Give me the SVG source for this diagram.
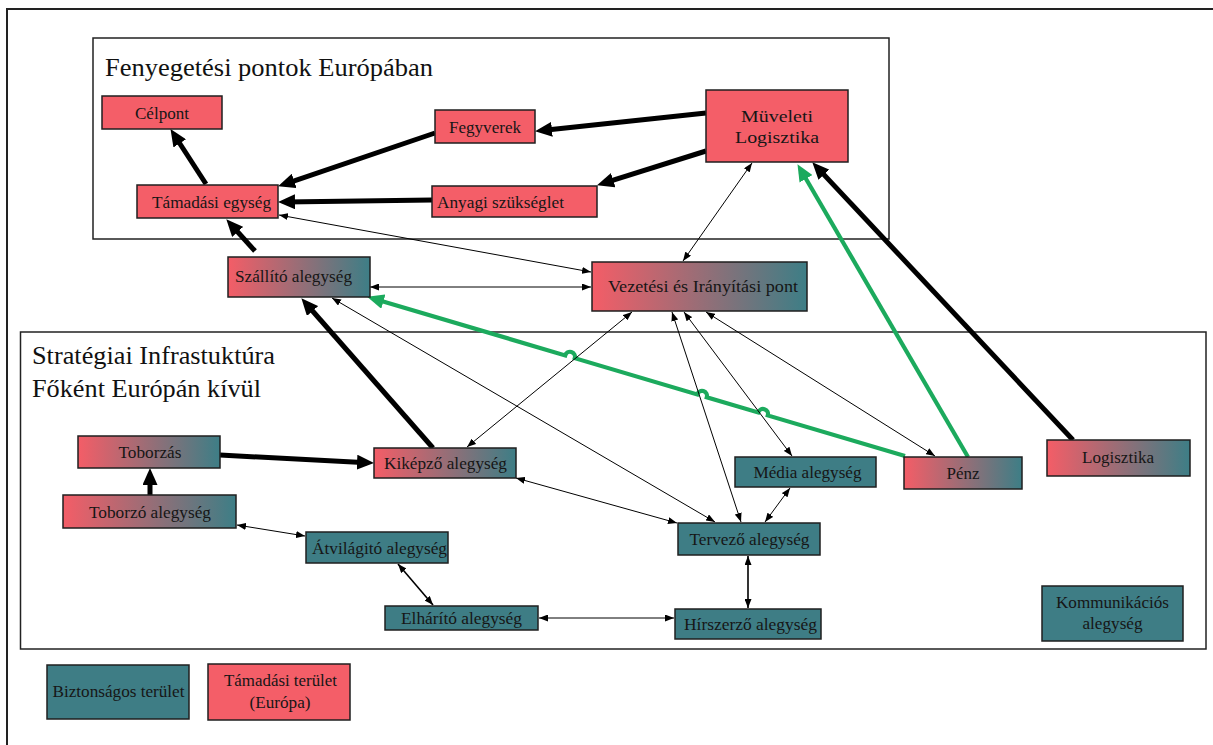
<svg xmlns="http://www.w3.org/2000/svg" width="1213" height="745" viewBox="0 0 1213 745">
<defs>
<linearGradient id="rg" x1="0" y1="0" x2="1" y2="0">
<stop offset="0" stop-color="#F45D67"/>
<stop offset="1" stop-color="#3D7E86"/>
</linearGradient>
<marker id="ah" markerUnits="userSpaceOnUse" markerWidth="17" markerHeight="15" refX="10" refY="7.5" orient="auto">
<path d="M0,0 L17,7.5 L0,15 z" fill="#000"/>
</marker>
<marker id="ag" markerUnits="userSpaceOnUse" markerWidth="17" markerHeight="15" refX="10" refY="7.5" orient="auto">
<path d="M0,0 L17,7.5 L0,15 z" fill="#1CAA5D"/>
</marker>
<marker id="at" markerUnits="userSpaceOnUse" markerWidth="9" markerHeight="7" refX="9" refY="3.5" orient="auto-start-reverse">
<path d="M0,0 L9,3.5 L0,7 z" fill="#000"/>
</marker>
<style>
.frame{fill:none;stroke:#222;stroke-width:1.5}
.box{stroke:#1f1f1f;stroke-width:1.5}
.red{fill:#F45E68}
.teal{fill:#3E7D85}
.grad{fill:url(#rg)}
.t{font-family:"Liberation Serif",Tinos,"Times New Roman",Times,serif;font-size:17px;fill:#161616;text-anchor:middle}
.title{font-family:"Liberation Serif",Tinos,"Times New Roman",Times,serif;font-size:26px;fill:#111}
.thick{fill:none;stroke:#000;stroke-width:5;marker-end:url(#ah)}
.green{fill:none;stroke:#1CAA5D;stroke-width:4.2;marker-end:url(#ag)}
.thin{fill:none;stroke:#000;stroke-width:1;marker-start:url(#at);marker-end:url(#at)}
.mid{fill:none;stroke:#000;stroke-width:1.6;marker-start:url(#at);marker-end:url(#at)}
</style>
</defs>
<rect width="1213" height="745" fill="#fff"/>
<g id="frames">
<rect x="7" y="9" width="1230" height="760" fill="none" stroke="#222" stroke-width="2"/>
<rect class="frame" x="93" y="38" width="796" height="201"/>
<text class="title" x="105" y="76" textLength="328" lengthAdjust="spacingAndGlyphs">Fenyegetési pontok Európában</text>
<rect class="frame" x="20.5" y="332" width="1185.5" height="317"/>
<text class="title" x="32" y="364" textLength="243" lengthAdjust="spacingAndGlyphs">Stratégiai Infrastuktúra</text>
<text class="title" x="32" y="397" textLength="229" lengthAdjust="spacingAndGlyphs">Főként Európán kívül</text>
</g>
<g id="connectors">
<path class="thick" d="M706,113 L542,130.4"/>
<path class="thick" d="M706,151 L603.7,183.2"/>
<path class="thick" d="M435,133 L284.7,184.1"/>
<path class="thick" d="M432,200 L285,201.9"/>
<path class="thick" d="M206,184 L174.3,135"/>
<path class="thick" d="M255,251 L231,224.5"/>
<path class="thick" d="M1073,440 L817.1,167.4"/>
<path class="thick" d="M433,448 L306,303.5"/>
<path class="thick" d="M150,495 L150,475"/>
<path class="thick" d="M220,455 L367,462.7"/>
<path class="green" d="M968,457 L801,170.2"/>
<path class="green" d="M905,456 L767.8,415.4 A5,5 0 0 0 758.2,412.5 L706.8,397.3 A5,5 0 0 0 697.2,394.5 L574.8,358.2 A5,5 0 0 0 565.2,355.4 L373.8,298.7"/>
<path class="thin" d="M279,215 L591,272"/>
<path class="thin" d="M370,287 L591,287"/>
<path class="thin" d="M752,163 L683,261"/>
<path class="thin" d="M467,447 L632,312"/>
<path class="thin" d="M332,298 L715,522"/>
<path class="thin" d="M516,478 L677,523"/>
<path class="thin" d="M672,312 L741,522"/>
<path class="thin" d="M684,312 L792,456"/>
<path class="thin" d="M706,312 L935,456"/>
<path class="thin" d="M790,488 L765,522"/>
<path class="mid" d="M748,556 L748,608"/>
<path class="thin" d="M539,618 L674,618"/>
<path class="mid" d="M398,564 L433,605"/>
<path class="thin" d="M237,525 L305,536"/>
</g>
<g id="n-celpont"><rect class="box red" x="102" y="96" width="120" height="33"/><text class="t" x="162" y="119" textLength="54" lengthAdjust="spacingAndGlyphs">Célpont</text></g>
<g id="n-fegyverek"><rect class="box red" x="435" y="110" width="100" height="33"/><text class="t" x="485" y="133" textLength="72" lengthAdjust="spacingAndGlyphs">Fegyverek</text></g>
<g id="n-tamadasi"><rect class="box red" x="137" y="185" width="141" height="33"/><text class="t" x="211.5" y="208" textLength="119" lengthAdjust="spacingAndGlyphs">Támadási egység</text></g>
<g id="n-anyagi"><rect class="box red" x="432" y="186" width="165" height="31"/><text class="t" x="500.5" y="208" textLength="127" lengthAdjust="spacingAndGlyphs">Anyagi szükséglet</text></g>
<g id="n-muveleti"><rect class="box red" x="706" y="90" width="142" height="72"/><text class="t" x="777" y="122" textLength="72" lengthAdjust="spacingAndGlyphs">Müveleti</text><text class="t" x="777" y="143" textLength="84" lengthAdjust="spacingAndGlyphs">Logisztika</text></g>
<g id="n-szallito"><rect class="box grad" x="228" y="257" width="142" height="40"/><text class="t" x="293.5" y="282" textLength="117" lengthAdjust="spacingAndGlyphs">Szállító alegység</text></g>
<g id="n-vezetesi"><rect class="box grad" x="592" y="262" width="215" height="49"/><text class="t" x="703" y="292" textLength="190" lengthAdjust="spacingAndGlyphs">Vezetési és Irányítási pont</text></g>
<g id="n-toborzas"><rect class="box grad" x="78" y="436" width="142" height="32"/><text class="t" x="150" y="458" textLength="63" lengthAdjust="spacingAndGlyphs">Toborzás</text></g>
<g id="n-kikepzo"><rect class="box grad" x="374" y="448" width="142" height="30"/><text class="t" x="445.5" y="469" textLength="123" lengthAdjust="spacingAndGlyphs">Kiképző alegység</text></g>
<g id="n-toborzo"><rect class="box grad" x="63" y="495" width="173" height="33"/><text class="t" x="150" y="518" textLength="122" lengthAdjust="spacingAndGlyphs">Toborzó alegység</text></g>
<g id="n-atvilagito"><rect class="box teal" x="306" y="532" width="142" height="31"/><text class="t" x="379.5" y="554" textLength="135" lengthAdjust="spacingAndGlyphs">Átvilágitó alegység</text></g>
<g id="n-elharito"><rect class="box teal" x="385" y="606" width="153" height="24"/><text class="t" x="461.5" y="624" textLength="121" lengthAdjust="spacingAndGlyphs">Elhárító alegység</text></g>
<g id="n-media"><rect class="box teal" x="735" y="457" width="141" height="30"/><text class="t" x="807.5" y="478" textLength="108" lengthAdjust="spacingAndGlyphs">Média alegység</text></g>
<g id="n-penz"><rect class="box grad" x="904" y="457" width="118" height="32"/><text class="t" x="963" y="479" textLength="33" lengthAdjust="spacingAndGlyphs">Pénz</text></g>
<g id="n-logisztika"><rect class="box grad" x="1047" y="440" width="143" height="36"/><text class="t" x="1118" y="463" textLength="72" lengthAdjust="spacingAndGlyphs">Logisztika</text></g>
<g id="n-tervezo"><rect class="box teal" x="678" y="523" width="142" height="32"/><text class="t" x="749.5" y="545" textLength="120" lengthAdjust="spacingAndGlyphs">Tervező alegység</text></g>
<g id="n-hirszerzo"><rect class="box teal" x="675" y="609" width="146" height="30"/><text class="t" x="750.5" y="630" textLength="133" lengthAdjust="spacingAndGlyphs">Hírszerző alegység</text></g>
<g id="n-kommunikacios"><rect class="box teal" x="1042" y="586" width="141" height="55"/><text class="t" x="1112.5" y="608" textLength="113" lengthAdjust="spacingAndGlyphs">Kommunikációs</text><text class="t" x="1112.5" y="629" textLength="60" lengthAdjust="spacingAndGlyphs">alegység</text></g>
<g id="legend-biztonsagos"><rect class="box teal" x="47" y="665" width="142" height="54"/><text class="t" x="118.5" y="697" textLength="132" lengthAdjust="spacingAndGlyphs">Biztonságos terület</text></g>
<g id="legend-tamadasi"><rect class="box red" x="208" y="664" width="142" height="56"/><text class="t" x="280.5" y="686" textLength="113" lengthAdjust="spacingAndGlyphs">Támadási terület</text><text class="t" x="280" y="708" textLength="61" lengthAdjust="spacingAndGlyphs">(Európa)</text></g>
</svg>
